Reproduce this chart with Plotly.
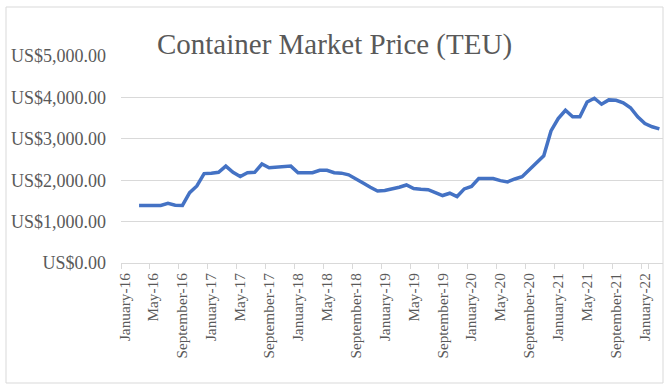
import plotly.graph_objects as go

month_names = ["January", "February", "March", "April", "May", "June", "July",
               "August", "September", "October", "November", "December"]
years = ["16", "17", "18", "19", "20", "21", "22"]
categories = [f"{m}-{y}" for y in years for m in month_names][:75]  # Jan-16 .. Mar-22

prices = [
    None, None, 1390, 1390, 1390, 1390, 1440, 1395, 1390, 1700, 1860, 2160,
    2170, 2190, 2340, 2190, 2090, 2180, 2190, 2390, 2300, 2320, 2340, 2340,
    2180, 2170, 2180, 2240, 2240, 2180, 2170, 2130, 2040, 1930, 1830, 1740,
    1750, 1780, 1830, 1885, 1800, 1780, 1770, 1700, 1630, 1685, 1605, 1790,
    1850, 2040, 2040, 2040, 1990, 1960, 2030, 2085, 2250, 2430, 2590, 3190,
    3490, 3690, 3530, 3530, 3890, 3980, 3835, 3940, 3930, 3870, 3750, 3530,
    3370, 3290, 3240,
]

tick_labels = categories[::4]

W, H = 670, 391
L, R, T, B = 121, 7, 56, 128
pw, ph = W - L - R, H - T - B

def px_x(x):
    return (x - L) / pw

def px_y(y):
    return (H - B - y) / ph

grey = "#595959"
grid = "#d9d9d9"
font_family = "Liberation Serif"

fig = go.Figure()
fig.add_trace(go.Scatter(
    x=categories, y=prices, mode="lines",
    line=dict(color="#4472C4", width=3.5),
    connectgaps=False, hoverinfo="x+y",
))

fig.update_layout(
    width=W, height=H,
    margin=dict(l=L, r=R, t=T, b=B, autoexpand=False),
    paper_bgcolor="white", plot_bgcolor="white",
    showlegend=False,
    title=dict(
        text="Container Market Price (TEU)",
        x=334.5 / W, xanchor="center",
        y=1 - 44 / H, yanchor="middle",
        font=dict(family=font_family, size=29, color=grey),
    ),
    xaxis=dict(
        type="category",
        categoryorder="array", categoryarray=categories,
        tickvals=tick_labels,
        tickson="boundaries",
        ticks="outside", ticklen=5, tickcolor=grid,
        showline=True, linecolor=grid, linewidth=1,
        showgrid=False,
        tickangle=-90,
        automargin=False,
        ticklabelstandoff=3,
        tickfont=dict(family=font_family, size=15.3, color=grey),
        range=[-0.5, len(categories) - 0.5],
    ),
    yaxis=dict(
        range=[0, 5000], dtick=1000,
        tickprefix="US$", tickformat=",.2f",
        showgrid=True, gridcolor=grid, gridwidth=1,
        zeroline=False, showline=False,
        automargin=False,
        ticks="", ticklabelstandoff=14,
        tickfont=dict(family=font_family, size=18, color=grey),
    ),
    shapes=[dict(
        type="rect", xref="paper", yref="paper",
        x0=px_x(6), x1=px_x(663), y0=px_y(383), y1=px_y(7),
        line=dict(color=grid, width=1), fillcolor="rgba(0,0,0,0)",
        layer="below",
    )],
)

fig.write_html(
    "out.html",
    config={"displayModeBar": False},
    post_script="document.body.style.margin='0';document.body.style.padding='0';",
)
